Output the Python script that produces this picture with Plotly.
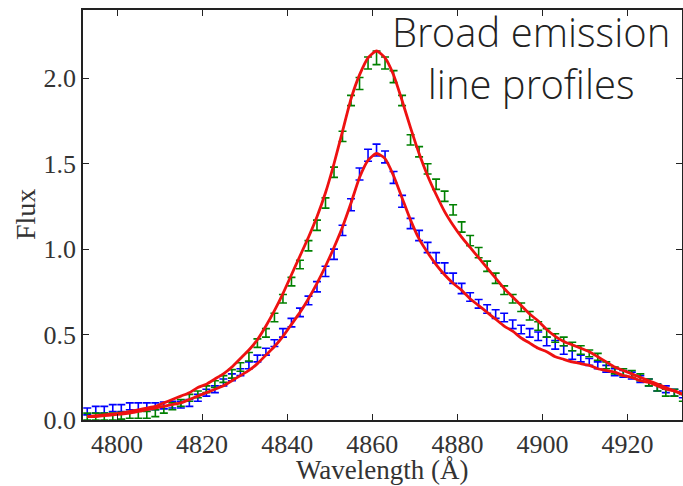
import plotly.graph_objects as go

wavelength = [4793, 4795, 4797, 4799, 4801, 4803, 4805, 4807, 4809, 4811,
              4813, 4815, 4817, 4819, 4821, 4823, 4825, 4827, 4829, 4831,
              4833, 4835, 4837, 4839, 4841, 4843, 4845, 4847, 4849, 4851,
              4853, 4855, 4857, 4859, 4861, 4863, 4865, 4867, 4869, 4871,
              4873, 4875, 4877, 4879, 4881, 4883, 4885, 4887, 4889, 4891,
              4893, 4895, 4897, 4899, 4901, 4903, 4905, 4907, 4909, 4911,
              4913, 4915, 4917, 4919, 4921, 4923, 4925, 4927, 4929, 4931,
              4933]

blue_flux = [0.05, 0.06, 0.06, 0.07, 0.07, 0.08, 0.08, 0.08, 0.08, 0.085,
             0.09, 0.09, 0.10, 0.13, 0.16, 0.18, 0.22, 0.25, 0.28, 0.32,
             0.36, 0.40, 0.45, 0.51, 0.57, 0.63, 0.70, 0.78, 0.87, 0.97,
             1.11, 1.26, 1.44, 1.55, 1.58, 1.54, 1.42, 1.28, 1.15, 1.08,
             1.01, 0.95, 0.89, 0.83, 0.77, 0.72, 0.68, 0.65, 0.62, 0.60,
             0.56, 0.53, 0.51, 0.49, 0.46, 0.44, 0.41, 0.38, 0.36, 0.34,
             0.32, 0.30, 0.28, 0.27, 0.26, 0.24, 0.22, 0.19, 0.18, 0.16,
             0.15]
blue_err = [0.02, 0.02, 0.02, 0.02, 0.02, 0.02, 0.02, 0.02, 0.02, 0.02,
            0.02, 0.02, 0.02, 0.02, 0.02, 0.02, 0.02, 0.02, 0.02, 0.02,
            0.02, 0.02, 0.02, 0.025, 0.025, 0.025, 0.025, 0.03, 0.03, 0.03,
            0.03, 0.035, 0.035, 0.035, 0.035, 0.035, 0.035, 0.035, 0.03, 0.03,
            0.03, 0.03, 0.03, 0.03, 0.03, 0.025, 0.025, 0.025, 0.025, 0.025,
            0.025, 0.025, 0.025, 0.025, 0.025, 0.025, 0.025, 0.025, 0.02, 0.02,
            0.02, 0.02, 0.02, 0.02, 0.02, 0.02, 0.02, 0.02, 0.02, 0.02,
            0.02]

green_flux = [0.02, 0.02, 0.02, 0.02, 0.025, 0.03, 0.03, 0.03, 0.04, 0.06,
              0.08, 0.10, 0.13, 0.15, 0.18, 0.21, 0.24, 0.27, 0.31, 0.37,
              0.45, 0.51, 0.60, 0.71, 0.81, 0.91, 1.02, 1.14, 1.27, 1.45,
              1.66, 1.87, 1.97, 2.09, 2.12, 2.09, 2.01, 1.87, 1.64, 1.57,
              1.47, 1.38, 1.31, 1.23, 1.13, 1.05, 0.98, 0.90, 0.83, 0.76,
              0.71, 0.66, 0.61, 0.55, 0.51, 0.48, 0.46, 0.43, 0.41, 0.39,
              0.37, 0.32, 0.29, 0.28, 0.27, 0.25, 0.22, 0.19, 0.16, 0.16,
              0.13]
green_err = [0.02, 0.02, 0.02, 0.02, 0.02, 0.02, 0.02, 0.02, 0.02, 0.02,
             0.02, 0.02, 0.02, 0.02, 0.02, 0.02, 0.02, 0.025, 0.025, 0.025,
             0.025, 0.025, 0.025, 0.025, 0.025, 0.025, 0.03, 0.03, 0.03, 0.03,
             0.03, 0.03, 0.035, 0.035, 0.04, 0.035, 0.035, 0.03, 0.03, 0.03,
             0.03, 0.03, 0.03, 0.03, 0.03, 0.03, 0.03, 0.03, 0.03, 0.025,
             0.025, 0.025, 0.025, 0.025, 0.025, 0.025, 0.025, 0.025, 0.025, 0.02,
             0.02, 0.02, 0.02, 0.02, 0.02, 0.02, 0.02, 0.02, 0.02, 0.02,
             0.02]

green_model = [0.02, 0.025, 0.03, 0.035, 0.04, 0.05, 0.06, 0.07, 0.08, 0.10,
               0.12, 0.14, 0.16, 0.19, 0.21, 0.24, 0.27, 0.31, 0.36, 0.41,
               0.47, 0.55, 0.64, 0.74, 0.85, 0.96, 1.07, 1.19, 1.33, 1.50,
               1.69, 1.88, 2.02, 2.12, 2.16, 2.12, 2.02, 1.87, 1.71, 1.56,
               1.43, 1.32, 1.22, 1.14, 1.07, 1.01, 0.95, 0.89, 0.83, 0.77,
               0.72, 0.67, 0.62, 0.58, 0.53, 0.49, 0.46, 0.44, 0.42, 0.40,
               0.37, 0.34, 0.31, 0.29, 0.27, 0.25, 0.23, 0.21, 0.19, 0.17,
               0.15]

blue_model = [0.02, 0.02, 0.025, 0.03, 0.035, 0.04, 0.05, 0.06, 0.07, 0.08,
              0.09, 0.10, 0.12, 0.14, 0.16, 0.18, 0.20, 0.23, 0.26, 0.29,
              0.33, 0.38, 0.43, 0.49, 0.56, 0.63, 0.71, 0.80, 0.90, 1.01,
              1.13, 1.27, 1.42, 1.52, 1.56, 1.53, 1.43, 1.30, 1.17, 1.06,
              0.98, 0.91, 0.85, 0.80, 0.76, 0.71, 0.67, 0.63, 0.59, 0.55,
              0.52, 0.48, 0.45, 0.42, 0.40, 0.37, 0.355, 0.34, 0.33, 0.32,
              0.30, 0.29, 0.28, 0.26, 0.25, 0.23, 0.22, 0.20, 0.18, 0.17,
              0.15]

x_ticks = [4800, 4820, 4840, 4860, 4880, 4900, 4920]
y_ticks = [0.0, 0.5, 1.0, 1.5, 2.0]
y_tick_labels = ["0.0", "0.5", "1.0", "1.5", "2.0"]

fig = go.Figure()

for flux, err, col in [(blue_flux, blue_err, "#0000ff"), (green_flux, green_err, "#008000")]:
    fig.add_trace(go.Scatter(
        x=wavelength, y=flux, mode="markers",
        marker=dict(size=1, color=col, opacity=0),
        error_y=dict(type="data", array=err, visible=True, color=col,
                     thickness=1.6, width=4),
        showlegend=False, hoverinfo="skip"))

for model in [green_model, blue_model]:
    fig.add_trace(go.Scatter(
        x=wavelength, y=model, mode="lines",
        line=dict(color="#ee1111", width=2.8, shape="spline", smoothing=0.6),
        showlegend=False))

serif = "Liberation Serif, DejaVu Serif, serif"
axis_common = dict(
    showline=True, linecolor="#222222", linewidth=1.5, mirror="ticks",
    ticks="inside", ticklen=6, tickwidth=1.3, tickcolor="#222222",
    showgrid=False, zeroline=False, automargin=False,
    tickfont=dict(family=serif, size=26, color="#333333"),
)

fig.update_layout(
    width=683, height=486,
    margin=dict(l=83, r=1, t=10, b=66),
    paper_bgcolor="white", plot_bgcolor="white",
    xaxis=dict(range=[4792, 4932.8], tickvals=x_ticks, **axis_common),
    yaxis=dict(range=[0, 2.4], tickvals=y_ticks, ticktext=y_tick_labels,
               **axis_common),
    annotations=[
        dict(text="Broad emission<br>line profiles", xref="paper", yref="paper",
             x=(531 - 83) / 599, y=1.02, xanchor="center", yanchor="top",
             showarrow=False, align="center",
             font=dict(family="Open Sans Light, Open Sans", size=40,
                       color="#222222", weight=300)),
        dict(text="Wavelength (Å)", xref="paper", yref="paper",
             x=0.5, y=(420 - 470) / 410, xanchor="center",
             yanchor="middle", showarrow=False,
             font=dict(family=serif, size=27, color="#333333")),
        dict(text="Flux", xref="paper", yref="paper",
             x=(25 - 83) / 599, y=0.5, xanchor="center",
             yanchor="middle", showarrow=False, textangle=-90,
             font=dict(family=serif, size=28, color="#333333")),
    ],
)

fig.write_html("out.html", config={"displayModeBar": False},
               post_script="document.body.style.margin='0';document.body.style.overflow='hidden';")
